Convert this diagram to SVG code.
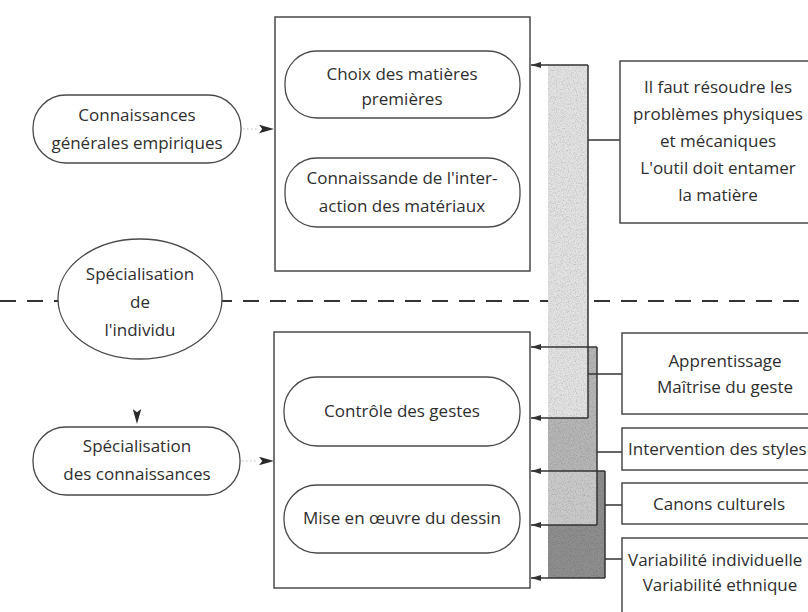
<svg xmlns="http://www.w3.org/2000/svg" width="808" height="612" viewBox="0 0 808 612">
<style>
  text { font-family: "Open Sans", "Noto Sans", "DejaVu Sans", sans-serif; font-size: 17px; fill: #2e2e2e; }
  .c { text-anchor: middle; }
  .box { fill: #fff; stroke: #4a4a4a; stroke-width: 1.5; }
  .pill { fill: #fff; stroke: #4a4a4a; stroke-width: 1.3; }
  .ln { fill: none; stroke: #333; stroke-width: 1.5; }
  .dot { fill: none; stroke: #bbb; stroke-width: 1.2; stroke-dasharray: 1.5 2.5; }
</style>
<defs>
  <marker id="ah" viewBox="0 0 10 6" refX="10" refY="3" markerWidth="10" markerHeight="6" markerUnits="userSpaceOnUse" orient="auto">
    <path d="M0,0 L10,3 L0,6 z" fill="#333"/>
  </marker>
  <marker id="ah2" viewBox="0 0 14 8" refX="14" refY="4" markerWidth="15" markerHeight="9" markerUnits="userSpaceOnUse" orient="auto">
    <path d="M0,0 L14,4 L0,8 L3,4 z" fill="#2a2a2a"/>
  </marker>
  <filter id="grain" x="0" y="0" width="100%" height="100%" color-interpolation-filters="sRGB">
    <feTurbulence type="fractalNoise" baseFrequency="0.85" numOctaves="2" seed="4" result="n"/>
    <feColorMatrix in="n" type="saturate" values="0" result="g"/>
    <feComponentTransfer in="g" result="g2">
      <feFuncR type="linear" slope="0.5" intercept="0.73"/>
      <feFuncG type="linear" slope="0.5" intercept="0.73"/>
      <feFuncB type="linear" slope="0.5" intercept="0.73"/>
      <feFuncA type="linear" slope="0" intercept="1"/>
    </feComponentTransfer>
    <feBlend in="SourceGraphic" in2="g2" mode="multiply" result="b"/>
    <feComposite in="b" in2="SourceGraphic" operator="in"/>
  </filter>
</defs>
<rect width="808" height="612" fill="#fff"/>

<!-- dashed separator -->
<line x1="0" y1="301" x2="808" y2="301" stroke="#333" stroke-width="2.2" stroke-dasharray="16 11"/>

<!-- shaded bars -->
<g id="bars" filter="url(#grain)">
  <rect x="548" y="471" width="57" height="107" fill="#8e8e8e"/>
  <rect x="548" y="347" width="49" height="124" fill="#b6b6b6"/>
  <rect x="548" y="471" width="49" height="54" fill="#cacaca"/>
  <rect x="548" y="65" width="40" height="353" fill="#e2e2e2"/>
</g>

<g id="connectors">
  <polyline class="ln" points="588,65 588,418"/>
  <polyline class="ln" points="597,347 597,525"/>
  <polyline class="ln" points="605,471 605,578"/>
  <line class="ln" x1="588" y1="65" x2="531" y2="65" marker-end="url(#ah)"/>
  <line class="ln" x1="588" y1="418" x2="531" y2="418" marker-end="url(#ah)"/>
  <line class="ln" x1="597" y1="347" x2="531" y2="347" marker-end="url(#ah)"/>
  <line class="ln" x1="597" y1="525" x2="531" y2="525" marker-end="url(#ah)"/>
  <line class="ln" x1="605" y1="471" x2="531" y2="471" marker-end="url(#ah)"/>
  <line class="ln" x1="605" y1="578" x2="531" y2="578" marker-end="url(#ah)"/>
  <line class="ln" x1="588" y1="140" x2="620" y2="140"/>
  <line class="ln" x1="588" y1="374" x2="622" y2="374"/>
  <line class="ln" x1="597" y1="452" x2="622" y2="452"/>
  <line class="ln" x1="605" y1="505" x2="622" y2="505" stroke="#777"/>
  <line class="ln" x1="605" y1="559" x2="622" y2="559"/>
  <line class="dot" x1="243" y1="129" x2="258" y2="129"/>
  <line x1="258" y1="129" x2="274" y2="129" stroke="none" marker-end="url(#ah2)"/>
  <line class="dot" x1="242" y1="461" x2="258" y2="461"/>
  <line x1="258" y1="461" x2="274" y2="461" stroke="none" marker-end="url(#ah2)"/>
  <line x1="137" y1="405" x2="137" y2="424" stroke="none" marker-end="url(#ah2)"/>
</g>

<g id="top-box">
  <rect class="box" x="275" y="17" width="255" height="254"/>
</g>
<g id="choix">
  <rect class="pill" x="285" y="51" width="235" height="67" rx="32"/>
  <text class="c" x="402" y="80">Choix des matières</text>
  <text class="c" x="402" y="105">premières</text>
</g>
<g id="interaction">
  <rect class="pill" x="285" y="158" width="235" height="69" rx="32"/>
  <text class="c" x="402" y="184">Connaissande de l'inter-</text>
  <text class="c" x="402" y="212">action des matériaux</text>
</g>

<g id="bottom-box">
  <rect class="box" x="274" y="332" width="256" height="256"/>
</g>
<g id="controle">
  <rect class="pill" x="284" y="377" width="236" height="69" rx="33"/>
  <text class="c" x="402" y="417">Contrôle des gestes</text>
</g>
<g id="mise">
  <rect class="pill" x="284" y="485" width="236" height="68" rx="33"/>
  <text class="c" x="402" y="524">Mise en œuvre du dessin</text>
</g>

<g id="connaissances">
  <rect class="pill" x="33" y="95" width="208" height="68" rx="33"/>
  <text class="c" x="137" y="121">Connaissances</text>
  <text class="c" x="137" y="149">générales empiriques</text>
</g>

<g id="specialisation-individu">
  <ellipse class="pill" cx="140" cy="299" rx="82" ry="60"/>
  <text class="c" x="140" y="280">Spécialisation</text>
  <text class="c" x="140" y="308">de</text>
  <text class="c" x="140" y="336">l'individu</text>
</g>

<g id="specialisation-connaissances">
  <rect class="pill" x="33" y="427" width="207" height="68" rx="33"/>
  <text class="c" x="137" y="452">Spécialisation</text>
  <text class="c" x="137" y="480">des connaissances</text>
</g>

<g id="il-faut">
  <rect class="box" x="620" y="61" width="200" height="162"/>
  <text class="c" x="718" y="93">Il faut résoudre les</text>
  <text class="c" x="718" y="120">problèmes physiques</text>
  <text class="c" x="718" y="147">et mécaniques</text>
  <text class="c" x="718" y="174">L'outil doit entamer</text>
  <text class="c" x="718" y="201">la matière</text>
</g>

<g id="apprentissage">
  <rect class="box" x="622" y="333" width="206" height="81"/>
  <text class="c" x="725" y="367">Apprentissage</text>
  <text class="c" x="725" y="393">Maîtrise du geste</text>
</g>

<g id="intervention">
  <rect class="box" x="622" y="428" width="206" height="42"/>
  <text x="628" y="455">Intervention des styles</text>
</g>

<g id="canons">
  <rect class="box" x="622" y="483" width="206" height="41"/>
  <text class="c" x="719" y="510">Canons culturels</text>
</g>

<g id="variabilite">
  <rect class="box" x="622" y="538" width="206" height="90"/>
  <text x="628" y="566">Variabilité individuelle</text>
  <text class="c" x="720" y="591">Variabilité ethnique</text>
</g>
</svg>
